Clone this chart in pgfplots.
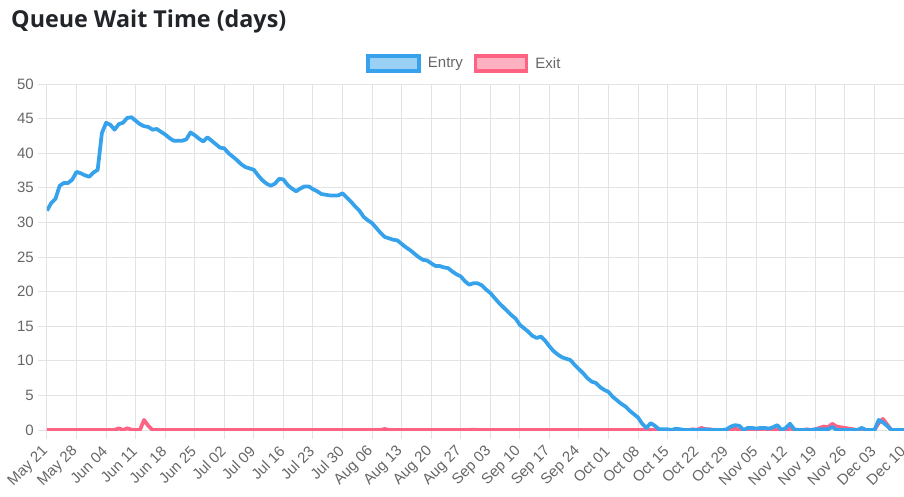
\documentclass[border=0pt]{standalone}
\usepackage{pgfplots}
\pgfplotsset{compat=1.18}
\usepackage{fontspec}
\setmainfont{Liberation Sans}
\newfontfamily\titlefont{Open Sans}
\definecolor{entryblue}{HTML}{36A2EB}
\definecolor{entryfill}{HTML}{9BD0F5}
\definecolor{exitpink}{HTML}{FF6384}
\definecolor{exitfill}{HTML}{FFB1C1}
\definecolor{ticktext}{HTML}{666666}
\definecolor{titletext}{HTML}{212529}
\begin{document}
\begin{tikzpicture}[x=1pt,y=1pt]
\path[use as bounding box] (0,0) rectangle (904,496);
\node[anchor=base west, inner sep=0pt, text=titletext] at (11,468) {\resizebox{275pt}{!}{\titlefont\bfseries Queue Wait Time (days)}};
\begin{axis}[
  at={(47pt,66pt)}, anchor=south west,
  scale only axis, width=857pt, height=346pt,
  xmin=0, xmax=203, ymin=0, ymax=50,
  ytick={0,5,...,50},
  xtick={0,7,...,203},
  xticklabels={May 21,May 28,Jun 04,Jun 11,Jun 18,Jun 25,Jul 02,Jul 09,Jul 16,Jul 23,Jul 30,Aug 06,Aug 13,Aug 20,Aug 27,Sep 03,Sep 10,Sep 17,Sep 24,Oct 01,Oct 08,Oct 15,Oct 22,Oct 29,Nov 05,Nov 12,Nov 19,Nov 26,Dec 03,Dec 10},
  grid=major,
  major grid style={draw=black!11, line width=1pt},
  axis line style={draw=none},
  tick align=outside, major tick length=9pt,
  tick style={draw=black!11, line width=1pt},
  xtick pos=bottom, ytick pos=left,
  yticklabel style={font=\fontsize{15}{15}\selectfont, text=ticktext, inner sep=4pt},
  xticklabel style={font=\fontsize{15}{15}\selectfont, text=ticktext, yshift=-9pt, xshift=-0.5pt, rotate=45, anchor=east, inner sep=1pt},
  /pgf/number format/assume math mode=true,
  legend columns=2,
  legend style={draw=none, fill=none, at={(0.4877,1.0592)}, anchor=center,
    font=\fontsize{15}{15}\selectfont, text=ticktext,
    nodes={inner sep=3pt},
    /tikz/every odd column/.append style={column sep=4pt},
    /tikz/every even column/.append style={column sep=8pt}},
  legend cell align=left,
]
\addlegendimage{legend image code/.code={\draw[draw=entryblue, fill=entryfill, line width=3.5pt] (0pt,-7.5pt) rectangle (51pt,7.5pt);}}
\addlegendentry{Entry}
\addlegendimage{legend image code/.code={\draw[draw=exitpink, fill=exitfill, line width=3.5pt] (0pt,-7.5pt) rectangle (51pt,7.5pt);}}
\addlegendentry{Exit}
% Exit (drawn first, below)
\addplot[exitpink, line width=3.75pt, line join=round, mark=none, forget plot] coordinates {
(0,0) (16,0) (17,0.25) (18,0) (19,0.25) (20,0.05) (21,0) (22,0) (23,1.45) (24,0.6) (25,0)
(79,0) (80,0.15) (81,0) (100,0) (101,0.05) (102,0)
(152,0) (153,0.1) (154,0) (155,0.3) (156,0.1) (157,0.1) (158,0)
(162,0) (163,0.2) (164,0) (169,0) (170,0.2) (171,0) (175,0) (176,0.2) (177,0)
(179,0) (180,0.1) (181,0) (182,0.1) (183,0.3) (184,0.5) (185,0.4) (186,0.9) (187,0.5) (188,0.4) (189,0.3) (190,0.2) (191,0.1) (192,0) (193,0.2) (194,0)
(196,0) (197,1.0) (198,1.6) (199,0.8) (200,0) (203,0)
};
% Entry
\addplot[entryblue, line width=3.75pt, line join=round, mark=none, forget plot] coordinates {
(0,31.7) (1,32.8) (2,33.4) (3,35.3) (4,35.7) (5,35.7) (6,36.2) (7,37.3) (8,37.1) (9,36.8)
(10,36.6) (11,37.2) (12,37.6) (13,42.9) (14,44.4) (15,44.1) (16,43.4) (17,44.2) (18,44.4) (19,45.1)
(20,45.2) (21,44.7) (22,44.2) (23,43.9) (24,43.8) (25,43.4) (26,43.5) (27,43.1) (28,42.7) (29,42.2)
(30,41.8) (31,41.8) (32,41.8) (33,42.0) (34,43.0) (35,42.6) (36,42.1) (37,41.7) (38,42.3) (39,41.8)
(40,41.3) (41,40.8) (42,40.7) (43,40.0) (44,39.5) (45,39.0) (46,38.4) (47,38.0) (48,37.8) (49,37.6)
(50,36.8) (51,36.1) (52,35.6) (53,35.3) (54,35.6) (55,36.3) (56,36.2) (57,35.4) (58,34.9) (59,34.5)
(60,34.9) (61,35.2) (62,35.2) (63,34.8) (64,34.5) (65,34.1) (66,34.0) (67,33.9) (68,33.9) (69,33.9)
(70,34.2) (71,33.6) (72,33.0) (73,32.3) (74,31.7) (75,30.8) (76,30.3) (77,29.9) (78,29.2) (79,28.5)
(80,27.9) (81,27.7) (82,27.5) (83,27.4) (84,26.9) (85,26.4) (86,26.0) (87,25.5) (88,25.0) (89,24.6)
(90,24.5) (91,24.1) (92,23.7) (93,23.7) (94,23.5) (95,23.4) (96,22.9) (97,22.5) (98,22.2) (99,21.5)
(100,21.0) (101,21.2) (102,21.2) (103,20.9) (104,20.3) (105,19.8) (106,19.1) (107,18.4) (108,17.8) (109,17.2)
(110,16.6) (111,16.1) (112,15.2) (113,14.7) (114,14.2) (115,13.6) (116,13.3) (117,13.5) (118,12.9) (119,12.1)
(120,11.4) (121,10.9) (122,10.5) (123,10.3) (124,10.1) (125,9.4) (126,8.8) (127,8.2) (128,7.5) (129,7.0)
(130,6.8) (131,6.2) (132,5.8) (133,5.5) (134,4.8) (135,4.3) (136,3.8) (137,3.4) (138,2.8) (139,2.3)
(140,1.8) (141,0.9) (142,0.3) (143,1.0) (144,0.6) (145,0.1) (146,0.1) (147,0.1) (148,0.0) (149,0.2)
(150,0.1) (151,0.0) (155,0.0) (156,0.1) (157,0.0) (160,0.0) (161,0.1) (162,0.5) (163,0.7) (164,0.6) (165,0.0)
(166,0.3) (167,0.3) (168,0.2) (169,0.3) (170,0.3) (171,0.2) (172,0.4) (173,0.7) (174,0.0) (175,0.3)
(176,0.9) (177,0.1) (178,0.0) (181,0.0) (182,0.1) (185,0.1) (186,0.45) (187,0.0) (192,0.0) (193,0.3)
(194,0.0) (196,0.0) (197,1.45) (198,1.1) (199,0.6) (200,0.0) (203,0.0)
};
\end{axis}
\end{tikzpicture}
\end{document}
